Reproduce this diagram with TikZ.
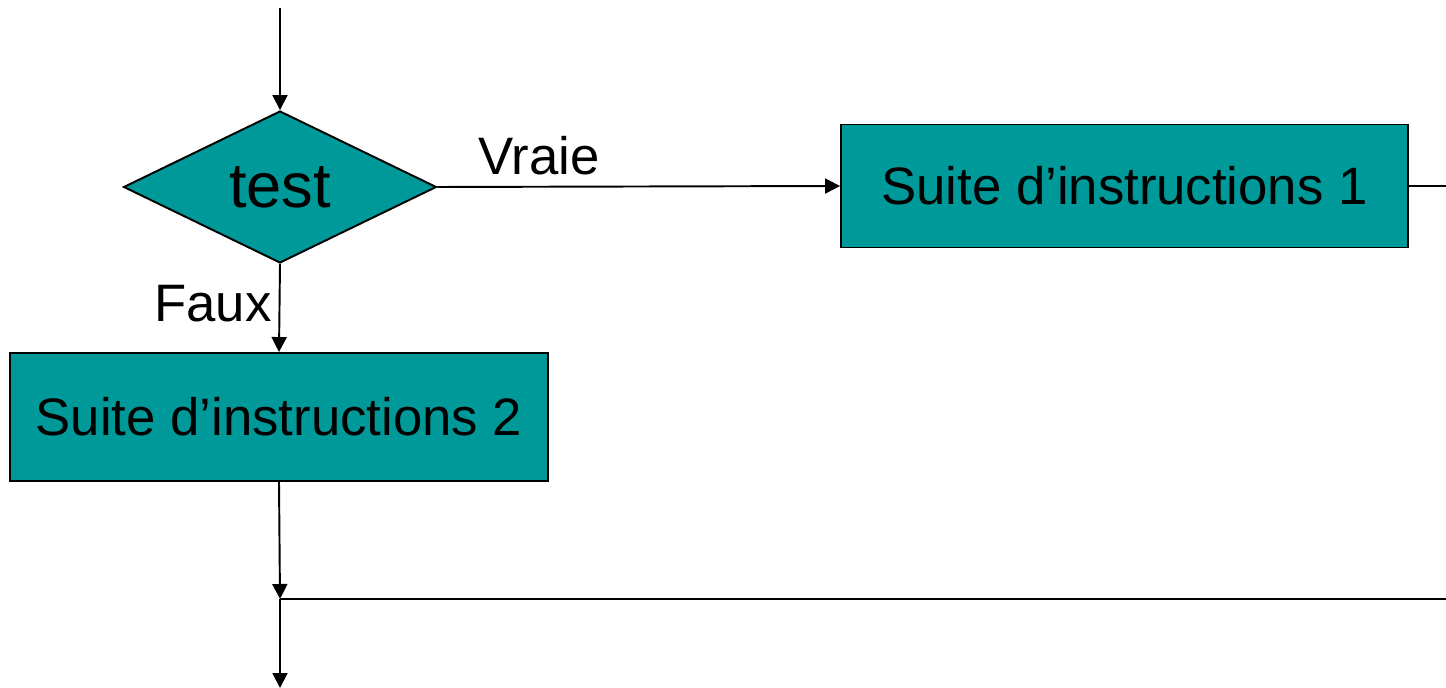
\documentclass[tikz,border=0pt]{standalone}
\usepackage{fontspec}
\setmainfont{Liberation Sans}
\usetikzlibrary{shapes.geometric,arrows.meta}
\definecolor{tealbox}{HTML}{009999}
\tikzset{
  flow/.style={line width=1.1pt,-{Triangle[width=0.3cm,length=0.3cm]}},
  plain/.style={line width=1.1pt},
  instr/.style={draw,line width=1.1pt,fill=tealbox,inner sep=0pt,font=\fontsize{30}{36}\selectfont},
  lbl/.style={anchor=base,font=\fontsize{30}{36}\selectfont}
}
\begin{document}
\begin{tikzpicture}[x=0.02cm,y=-0.02cm]
\useasboundingbox (0,0) rectangle (1446,688);

% Test
\node[instr,diamond,aspect=2,minimum width=6.26cm,minimum height=3.04cm,font=\fontsize{36}{42}\selectfont] (test) at (280,187) {test};

% Blocks
\node[instr,minimum width=11.34cm,minimum height=2.46cm] (bloc1) at (1124.5,186) {Suite d’instructions 1};
\node[instr,minimum width=10.76cm,minimum height=2.56cm] (bloc2) at (279,417) {Suite d’instructions 2};

% Free ends
\coordinate (entree) at (280,8);
\coordinate (sortie1) at (1446,186);
\coordinate (jonction) at (280,599);
\coordinate (suite) at (280,688);

% Connectors
\draw[flow] (entree) -- (test.north);
\draw[flow] (test.east) -- (bloc1.west);
\draw[flow] (test.south) -- (bloc2.north);
\draw[plain] (bloc1.east) -- (sortie1);
\draw[flow] (bloc2.south) -- (jonction);
\draw[plain] (jonction) -- (1446,599);
\draw[flow] (jonction) -- (suite);

% Labels
\node[lbl] (vraie) at (539,175) {Vraie};
\node[lbl] (faux) at (213,322) {Faux};
\end{tikzpicture}
\end{document}
